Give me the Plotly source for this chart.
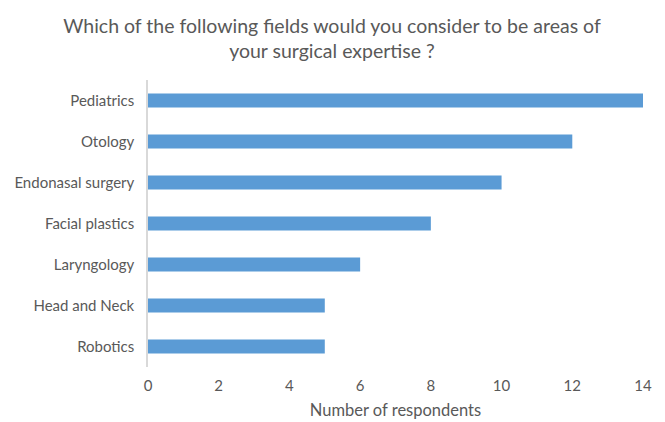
import plotly.graph_objects as go

categories = ["Robotics", "Head and Neck", "Laryngology", "Facial plastics",
              "Endonasal surgery", "Otology", "Pediatrics"]
values = [5, 5, 6, 8, 10, 12, 14]
tick_vals = [0, 2, 4, 6, 8, 10, 12, 14]

FONT = "Lato, Open Sans, sans-serif"
GRAY = "#595959"

# page body has an 8px default margin, so the figure is sized to compensate
W, H = 657, 414

fig = go.Figure(go.Bar(
    x=values, y=categories, orientation="h",
    marker=dict(color="#5B9BD5", line=dict(color="#5B9BD5", width=0)),
))

fig.update_layout(
    width=W, height=H,
    margin=dict(l=140, r=22, t=72, b=55, autoexpand=False),
    paper_bgcolor="white", plot_bgcolor="white",
    font=dict(family=FONT, size=15, color=GRAY),
    title=dict(
        text="Which of the following fields would you consider to be areas of<br>your surgical expertise ?",
        xref="container", x=(332 - 8) / W, xanchor="center",
        yref="container", y=1 - (37.5 - 5 - 8) / H, yanchor="middle",
        font=dict(family=FONT, size=19.5, color=GRAY),
    ),
    showlegend=False,
    bargap=0.66,
)
fig.update_xaxes(
    range=[0, 14], tickvals=tick_vals, showgrid=False, zeroline=False,
    showline=False, ticks="", ticklabelstandoff=8,
    tickfont=dict(size=15, color=GRAY),
    title=dict(text="Number of respondents", font=dict(size=16.5, color=GRAY), standoff=11),
    fixedrange=True,
)
fig.update_yaxes(
    showgrid=False, zeroline=False, showline=True, linecolor="#D9D9D9", linewidth=1.5,
    ticks="", ticklabelstandoff=9, tickfont=dict(size=15, color=GRAY),
    categoryorder="array", categoryarray=categories,
)

fig.write_html("out.html")
